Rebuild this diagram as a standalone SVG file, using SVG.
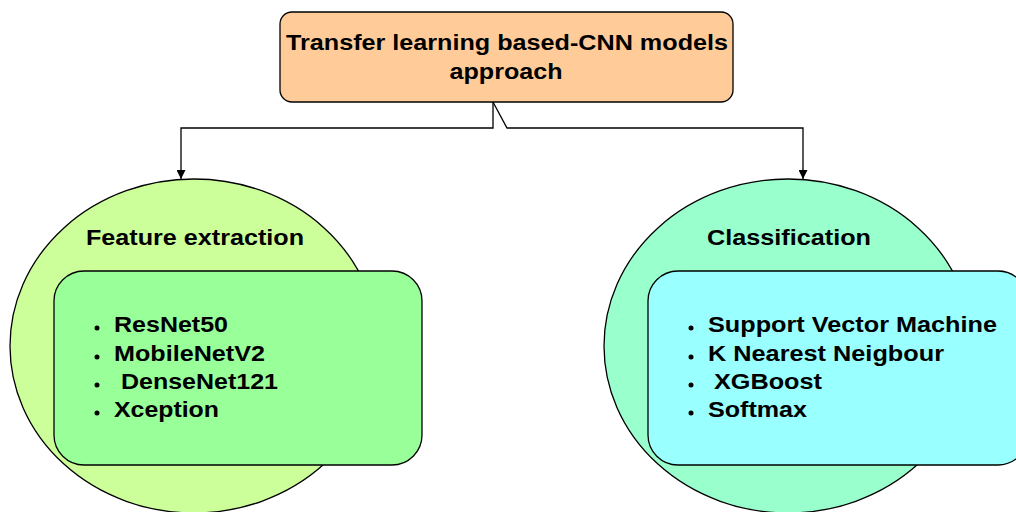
<svg xmlns="http://www.w3.org/2000/svg" width="1016" height="512" viewBox="0 0 1016 512">
<style>
.t{font-family:"Liberation Sans",Arial,sans-serif;font-weight:bold;fill:#000;}
.h{font-size:22.5px;}
.li{font-size:22px;}
.edge{fill:none;stroke:#000;stroke-width:1.3;}
.shape{stroke:#000;stroke-width:1.3;}
</style>
<defs>
<marker id="arr" viewBox="0 0 10 10" refX="10" refY="5" markerWidth="9" markerHeight="9" markerUnits="userSpaceOnUse" orient="auto">
<path d="M0,0 L10,5 L0,10 Z" fill="#000"/>
</marker>
</defs>
<rect width="1016" height="512" fill="#fff"/>
<g id="connectors">
<path class="edge" d="M493,102 L493,128 L181,128 L181,179" marker-end="url(#arr)"/>
<path class="edge" d="M493,102 L507,128 L803,128 L803,179" marker-end="url(#arr)"/>
</g>
<g id="root">
<rect class="shape" x="280" y="12" width="453" height="90" rx="12" fill="#FFCC99"/>
<text class="t h" x="507" y="50" text-anchor="middle" textLength="442" lengthAdjust="spacingAndGlyphs">Transfer learning based-CNN models</text>
<text class="t h" x="506" y="79" text-anchor="middle" textLength="113" lengthAdjust="spacingAndGlyphs">approach</text>
</g>
<g id="feature-extraction">
<ellipse class="shape" cx="194" cy="346" rx="184" ry="167" fill="#CCFF99"/>
<text class="t h" x="86" y="245" textLength="218" lengthAdjust="spacingAndGlyphs">Feature extraction</text>
<rect class="shape" x="54" y="271" width="368" height="194" rx="30" fill="#99FF99"/>
<g>
<circle cx="97" cy="328" r="2.5"/><text class="t li" x="114" y="332" textLength="114" lengthAdjust="spacingAndGlyphs">ResNet50</text>
<circle cx="97" cy="357" r="2.5"/><text class="t li" x="114" y="361" textLength="151" lengthAdjust="spacingAndGlyphs">MobileNetV2</text>
<circle cx="97" cy="385" r="2.5"/><text class="t li" x="121" y="389" textLength="157" lengthAdjust="spacingAndGlyphs">DenseNet121</text>
<circle cx="97" cy="413" r="2.5"/><text class="t li" x="114" y="417" textLength="105" lengthAdjust="spacingAndGlyphs">Xception</text>
</g>
</g>
<g id="classification">
<ellipse class="shape" cx="788" cy="346" rx="184" ry="167" fill="#99FFCC"/>
<text class="t h" x="707" y="245" textLength="164" lengthAdjust="spacingAndGlyphs">Classification</text>
<rect class="shape" x="648" y="271" width="380" height="194" rx="30" fill="#99FFFF"/>
<g>
<circle cx="691" cy="328" r="2.5"/><text class="t li" x="708" y="332" textLength="289" lengthAdjust="spacingAndGlyphs">Support Vector Machine</text>
<circle cx="691" cy="357" r="2.5"/><text class="t li" x="708" y="361" textLength="236" lengthAdjust="spacingAndGlyphs">K Nearest Neigbour</text>
<circle cx="691" cy="385" r="2.5"/><text class="t li" x="714" y="389" textLength="108" lengthAdjust="spacingAndGlyphs">XGBoost</text>
<circle cx="691" cy="413" r="2.5"/><text class="t li" x="708" y="417" textLength="99" lengthAdjust="spacingAndGlyphs">Softmax</text>
</g>
</g>
</svg>
